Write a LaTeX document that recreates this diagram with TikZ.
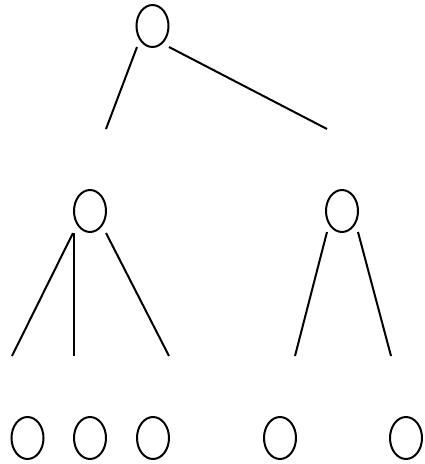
\documentclass[tikz,border=0pt]{standalone}
\usetikzlibrary{shapes.geometric}
\begin{document}
\begin{tikzpicture}[x=1pt,y=-1pt,
  treenode/.style={draw=black, line width=2pt, ellipse, minimum width=32pt, minimum height=42pt, inner sep=0pt},
  branch/.style={draw=black, line width=2pt}]
\useasboundingbox (0,0) rectangle (424,464);
% nodes
\node[treenode] (root) at (152.5,26) {};
\node[treenode] (ml) at (90,211) {};
\node[treenode] (mr) at (342,211) {};
\node[treenode] (l1) at (27.5,438) {};
\node[treenode] (l2) at (90,438) {};
\node[treenode] (l3) at (153,438) {};
\node[treenode] (l4) at (280,438) {};
\node[treenode] (l5) at (406,438) {};
% branch end points
\coordinate (a1) at (137,47);   \coordinate (b1) at (106,129);
\coordinate (a2) at (169,47);   \coordinate (b2) at (327,129);
\coordinate (a3) at (73,233);   \coordinate (b3) at (12,356);
\coordinate (a4) at (74,233);   \coordinate (b4) at (74,356);
\coordinate (a5) at (106,233);  \coordinate (b5) at (169,356);
\coordinate (a6) at (327,232);  \coordinate (b6) at (295,356);
\coordinate (a7) at (358,232);  \coordinate (b7) at (391,356);
\draw[branch] (a1) -- (b1);
\draw[branch] (a2) -- (b2);
\draw[branch] (a3) -- (b3);
\draw[branch] (a4) -- (b4);
\draw[branch] (a5) -- (b5);
\draw[branch] (a6) -- (b6);
\draw[branch] (a7) -- (b7);
\end{tikzpicture}
\end{document}
